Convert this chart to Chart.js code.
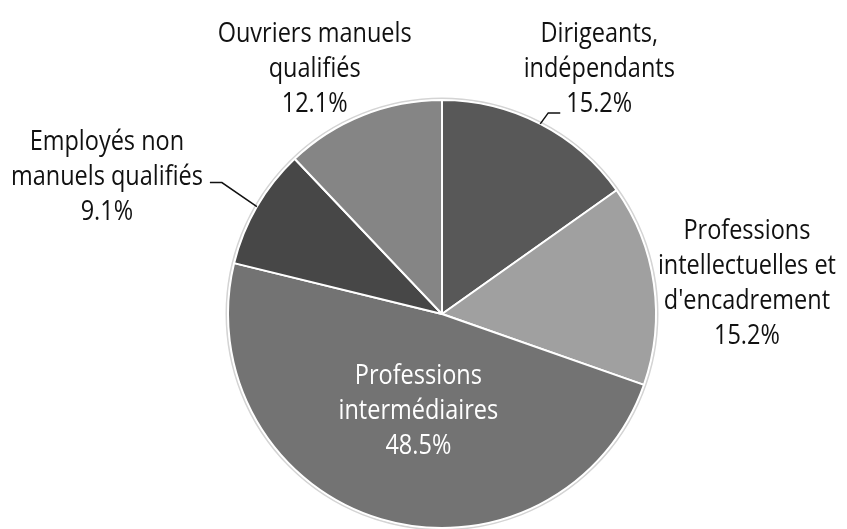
<!DOCTYPE html>
<html>
<head>
<meta charset="utf-8">
<script src="https://cdn.jsdelivr.net/npm/chart.js@4/dist/chart.umd.min.js"></script>
<style>
  body { margin: 0; background: #fff; }
  #wrap { width: 847px; height: 529px; position: relative; }
</style>
</head>
<body>
<div id="wrap"><canvas id="pieChart"></canvas></div>
<script>
// Data (clockwise from 12 o'clock)
const categories = [
    'Dirigeants,\nindépendants',
    'Professions\nintellectuelles et\nd\'encadrement',
    'Professions\nintermédiaires',
    'Employés non\nmanuels qualifiés',
    'Ouvriers manuels\nqualifiés'
];
const shares = [15.2, 15.2, 48.5, 9.1, 12.1];
const sliceColors = ['#585858', '#a0a0a0', '#737373', '#474747', '#858585'];

// Where each label sits, relative to the slice's mid-angle point at k * radius
const labelPlacement = [
    { k: 1, dx: 59, dy: -55, color: '#111', leader: [[8, -11], [20, -11]] },
    { k: 1, dx: 93, dy: 0, color: '#111' },
    { k: 0.47, dx: 5, dy: 1, color: '#fff' },
    { k: 1, dx: -150, dy: -29, color: '#111', leader: [[-35, -24], [-47, -24]] },
    { k: 1, dx: -48, dy: -46, color: '#111' }
];

// the original uses a condensed face; squeeze Open Sans horizontally instead
const labelFont = '27px "Open Sans", sans-serif';
const squeeze = 0.87;
const lineHeight = 35;

// Draws the category/percent labels next to each slice
const sliceLabels = {
    id: 'sliceLabels',
    beforeDatasetsDraw(chart) {
        // faint grey rim around the pie
        const arc = chart.getDatasetMeta(0).data[0];
        if (!arc) return;
        const ctx = chart.ctx;
        ctx.save();
        ctx.beginPath();
        ctx.arc(arc.x, arc.y, arc.outerRadius + 1.5, 0, Math.PI * 2);
        ctx.strokeStyle = '#d4d4d4';
        ctx.lineWidth = 2;
        ctx.stroke();
        ctx.restore();
    },
    afterDatasetsDraw(chart) {
        const ctx = chart.ctx;
        const arcs = chart.getDatasetMeta(0).data;
        arcs.forEach((arc, i) => {
            const p = labelPlacement[i];
            const mid = (arc.startAngle + arc.endAngle) / 2;
            const ex = arc.x + Math.cos(mid) * arc.outerRadius;
            const ey = arc.y + Math.sin(mid) * arc.outerRadius;
            const ax = arc.x + Math.cos(mid) * arc.outerRadius * p.k + p.dx;
            const ay = arc.y + Math.sin(mid) * arc.outerRadius * p.k + p.dy;

            ctx.save();
            if (p.leader) {
                ctx.beginPath();
                ctx.moveTo(ex, ey);
                p.leader.forEach(pt => ctx.lineTo(ex + pt[0], ey + pt[1]));
                ctx.strokeStyle = '#111';
                ctx.lineWidth = 1.5;
                ctx.stroke();
            }

            const lines = categories[i].split('\n');
            lines.push(shares[i].toFixed(1) + '%');
            const top = -(lines.length - 1) * lineHeight / 2;
            ctx.translate(ax, ay);
            ctx.scale(squeeze, 1);
            ctx.font = labelFont;
            ctx.textAlign = 'center';
            ctx.textBaseline = 'middle';
            ctx.fillStyle = p.color;
            lines.forEach((txt, j) => ctx.fillText(txt, 0, top + j * lineHeight));
            ctx.restore();
        });
    }
};

new Chart(document.getElementById('pieChart'), {
    type: 'pie',
    data: {
        labels: categories,
        datasets: [{
            data: shares,
            backgroundColor: sliceColors,
            borderColor: '#ffffff',
            borderWidth: 2
        }]
    },
    options: {
        responsive: true,
        maintainAspectRatio: false,
        animation: false,
        layout: { padding: { top: 99, bottom: 0, left: 227, right: 190 } },
        plugins: {
            legend: { display: false },
            tooltip: { enabled: false }
        }
    },
    plugins: [sliceLabels]
});
</script>
</body>
</html>
